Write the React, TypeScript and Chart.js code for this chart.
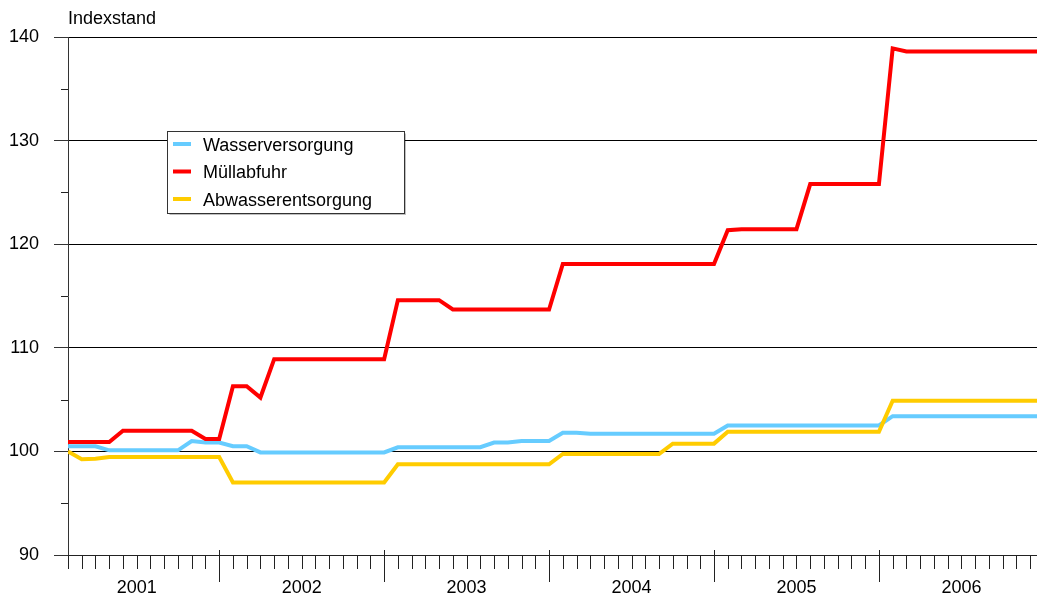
import React, { useEffect, useRef } from 'react';
import { Chart, registerables } from 'chart.js';

Chart.register(...registerables);

// ---- Data ----
const years = ['2001', '2002', '2003', '2004', '2005', '2006'];
const yAxisTitle = 'Indexstand';
const seriesNames = ['Wasserversorgung', 'Müllabfuhr', 'Abwasserentsorgung'];
const seriesColors = ['#66CCFF', '#FF0000', '#FFCC00'];

// monthly index values, Jan 2001 .. Dec 2006
const wasser = [
  100.5, 100.5, 100.5, 100.1, 100.1, 100.1, 100.1, 100.1, 100.1, 101.0, 100.85, 100.85,
  100.5, 100.5, 99.9, 99.9, 99.9, 99.9, 99.9, 99.9, 99.9, 99.9, 99.9, 99.9,
  100.4, 100.4, 100.4, 100.4, 100.4, 100.4, 100.4, 100.85, 100.85, 101.0, 101.0, 101.0,
  101.8, 101.8, 101.7, 101.7, 101.7, 101.7, 101.7, 101.7, 101.7, 101.7, 101.7, 101.7,
  102.5, 102.5, 102.5, 102.5, 102.5, 102.5, 102.5, 102.5, 102.5, 102.5, 102.5, 102.5,
  103.4, 103.4, 103.4, 103.4, 103.4, 103.4, 103.4, 103.4, 103.4, 103.4, 103.4, 103.4,
];
const muell = [
  100.9, 100.9, 100.9, 100.9, 102.0, 102.0, 102.0, 102.0, 102.0, 102.0, 101.2, 101.2,
  106.3, 106.3, 105.2, 108.9, 108.9, 108.9, 108.9, 108.9, 108.9, 108.9, 108.9, 108.9,
  114.6, 114.6, 114.6, 114.6, 113.7, 113.7, 113.7, 113.7, 113.7, 113.7, 113.7, 113.7,
  118.1, 118.1, 118.1, 118.1, 118.1, 118.1, 118.1, 118.1, 118.1, 118.1, 118.1, 118.1,
  121.35, 121.45, 121.45, 121.45, 121.45, 121.45, 125.8, 125.8, 125.8, 125.8, 125.8, 125.8,
  138.9, 138.6, 138.6, 138.6, 138.6, 138.6, 138.6, 138.6, 138.6, 138.6, 138.6, 138.6,
];
const abwasser = [
  100.0, 99.25, 99.3, 99.45, 99.45, 99.45, 99.45, 99.45, 99.45, 99.45, 99.45, 99.45,
  97.0, 97.0, 97.0, 97.0, 97.0, 97.0, 97.0, 97.0, 97.0, 97.0, 97.0, 97.0,
  98.75, 98.75, 98.75, 98.75, 98.75, 98.75, 98.75, 98.75, 98.75, 98.75, 98.75, 98.75,
  99.75, 99.75, 99.75, 99.75, 99.75, 99.75, 99.75, 99.75, 100.75, 100.75, 100.75, 100.75,
  101.9, 101.9, 101.9, 101.9, 101.9, 101.9, 101.9, 101.9, 101.9, 101.9, 101.9, 101.9,
  104.9, 104.9, 104.9, 104.9, 104.9, 104.9, 104.9, 104.9, 104.9, 104.9, 104.9, 104.9,
];
const seriesValues = [wasser, muell, abwasser];
const yMinorTicks = [95, 105, 115, 125, 135];

const W = 1037;
const H = 601;
const FONT = '"Liberation Sans", Arial, Helvetica, sans-serif';
const FONT_SIZE = 18;
const MONTHS_PER_YEAR = 12;

const decorations = {
  id: 'decorations',
  afterDraw(chart: any) {
    const { ctx, chartArea, scales } = chart;
    const xs = scales.x;
    const ys = scales.y;
    ctx.save();
    ctx.strokeStyle = '#222';
    ctx.lineWidth = 1;
    ctx.beginPath();
    // minor y ticks
    yMinorTicks.forEach((v) => {
      const py = Math.round(ys.getPixelForValue(v)) + 0.5;
      ctx.moveTo(chartArea.left - 7, py);
      ctx.lineTo(chartArea.left, py);
    });
    // month ticks
    for (let i = 0; i <= Math.floor(xs.max); i++) {
      const px = Math.round(xs.getPixelForValue(i)) + 0.5;
      const isYearEnd = i % MONTHS_PER_YEAR === MONTHS_PER_YEAR - 1;
      ctx.moveTo(px, chartArea.bottom - (isYearEnd ? 5 : 0));
      ctx.lineTo(px, chartArea.bottom + (isYearEnd ? 27 : 14));
    }
    ctx.stroke();

    // axis title
    ctx.font = `${FONT_SIZE}px ${FONT}`;
    ctx.fillStyle = '#000';
    ctx.textBaseline = 'middle';
    ctx.textAlign = 'left';
    ctx.fillText(yAxisTitle, chartArea.left, 19);

    // legend box
    const bx = 167.5, by = 131.5, bw = 237, bh = 82;
    ctx.fillStyle = '#fff';
    ctx.fillRect(bx, by, bw, bh);
    ctx.strokeStyle = '#333';
    ctx.lineWidth = 1;
    ctx.strokeRect(bx, by, bw, bh);
    ctx.strokeStyle = 'rgba(0,0,0,0.25)';
    ctx.beginPath();
    ctx.moveTo(bx + bw + 1, by + 2);
    ctx.lineTo(bx + bw + 1, by + bh + 1);
    ctx.lineTo(bx + 2, by + bh + 1);
    ctx.stroke();
    const rowY = [144, 171.5, 199];
    seriesNames.forEach((name, i) => {
      ctx.strokeStyle = seriesColors[i];
      ctx.lineWidth = 4;
      ctx.beginPath();
      ctx.moveTo(173, rowY[i]);
      ctx.lineTo(191, rowY[i]);
      ctx.stroke();
      ctx.fillStyle = '#000';
      ctx.font = `${FONT_SIZE}px ${FONT}`;
      ctx.textBaseline = 'middle';
      ctx.fillText(name, 203, rowY[i] + 2);
    });
    ctx.restore();
  },
};

export default function App() {
  const canvasRef = useRef<HTMLCanvasElement | null>(null);

  useEffect(() => {
    const canvas = canvasRef.current;
    if (!canvas) return;
    const drawOrder = [2, 1, 0];
    const chart = new Chart(canvas, {
      type: 'line',
      data: {
        datasets: seriesValues.map((vals, i) => ({
          label: seriesNames[i],
          data: vals.map((v, idx) => ({ x: idx, y: v })),
          borderColor: seriesColors[i],
          backgroundColor: seriesColors[i],
          borderWidth: 4,
          pointRadius: 0,
          tension: 0,
          fill: false,
          order: drawOrder[i],
        })),
      },
      options: {
        animation: false,
        responsive: false,
        devicePixelRatio: 1,
        events: [],
        layout: { padding: { top: 37, left: 0, right: 0, bottom: 0 } },
        plugins: {
          legend: { display: false },
          tooltip: { enabled: false },
          title: { display: false },
        },
        scales: {
          x: {
            type: 'linear',
            min: 0,
            max: 70.5,
            grid: { display: false, drawTicks: false },
            border: { display: true, color: '#222', width: 1 },
            afterBuildTicks: (scale: any) => {
              scale.ticks = years.map((_, i) => ({ value: 5 + i * MONTHS_PER_YEAR }));
            },
            afterFit: (scale: any) => {
              scale.height = 46;
            },
            ticks: {
              autoSkip: false,
              maxRotation: 0,
              minRotation: 0,
              padding: 22,
              color: '#000',
              font: { family: FONT, size: FONT_SIZE },
              callback: (_v: any, index: number) => years[index],
            },
          },
          y: {
            type: 'linear',
            min: 90,
            max: 140,
            grid: {
              color: '#000',
              lineWidth: 1,
              drawTicks: true,
              tickLength: 14,
              tickColor: '#333',
            },
            border: { display: true, color: '#333', width: 1 },
            afterFit: (scale: any) => {
              scale.width = 68;
            },
            ticks: {
              stepSize: 10,
              padding: 15,
              color: '#000',
              font: { family: FONT, size: FONT_SIZE },
            },
          },
        },
      },
      plugins: [decorations],
    });
    return () => chart.destroy();
  }, []);

  return (
    <div style={{ position: 'absolute', left: 0, top: 0, width: W, height: H, background: '#fff' }}>
      <canvas ref={canvasRef} width={W} height={H} style={{ display: 'block', width: W, height: H }} />
    </div>
  );
}
